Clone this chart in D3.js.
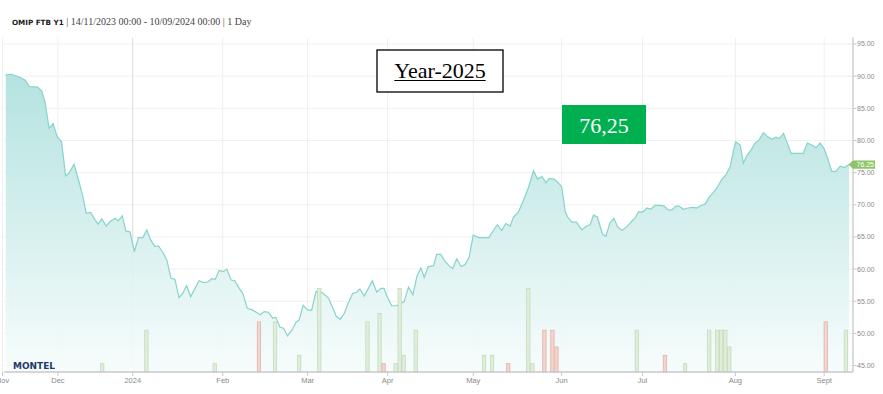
<!DOCTYPE html>
<html>
<head>
<meta charset="utf-8">
<script src="https://cdnjs.cloudflare.com/ajax/libs/d3/7.8.5/d3.min.js"></script>
<style>
  html, body { margin: 0; padding: 0; background: #fff; }
  svg { display: block; }
</style>
</head>
<body>
<svg id="chart" width="883" height="394"></svg>
<script>
// trading session index (0 = 14/11/2023) and closing price, EUR/MWh
var sessions = [0,1.5,3.6,4.8,5.9,7.9,9.0,9.8,10.8,11.8,12.8,13.9,14.9,15.7,17.0,18.1,19.2,20.0,21.1,22.2,
    23.0,23.9,25.0,26.0,27.2,28.0,29.0,29.9,30.9,32.0,33.0,34.1,35.1,36.1,37.1,38.0,39.0,40.1,41.1,42.1,
    43.1,44.0,45.0,46.0,47.1,48.1,49.2,50.2,51.3,52.1,53.1,54.1,55.0,56.1,57.0,58.1,59.0,60.1,61.2,62.3,
    63.3,64.3,65.3,66.4,67.2,68.2,69.1,70.1,71.2,72.2,73.0,74.0,75.0,76.1,77.2,78.0,79.0,80.3,81.4,82.2,
    83.2,84.2,85.2,86.3,87.3,88.1,89.2,90.2,91.2,92.3,93.3,94.1,94.9,96.0,97.1,98.1,99.1,100.2,101.3,102.3,
    103.3,104.1,105.1,106.4,107.2,108.2,109.3,110.3,111.2,112.2,113.3,114.3,115.3,116.3,117.6,118.8,120.2,121.3,122.3,123.4,
    124.4,125.5,126.3,127.5,128.8,130.0,131.3,132.3,133.4,134.4,135.2,136.4,137.5,138.3,139.2,139.8,140.8,142.0,143.3,144.5,
    145.4,146.2,147.2,148.4,149.3,150.3,151.3,152.2,153.3,154.5,155.7,156.6,157.4,158.5,159.5,160.5,161.5,162.8,163.8,164.8,
    165.7,166.7,167.5,168.6,169.7,171.1,171.9,173.0,174.0,175.0,176.0,177.0,178.1,179.1,180.2,181.0,181.6,182.7,183.5,184.4,
    185.4,186.4,187.4,188.5,189.5,190.6,191.6,192.4,193.5,194.3,195.4,196.8,198.4,199.4,200.5,201.6,202.6,203.6,204.3,205.5,
    206.5,207.6,208.6,209.8];

var prices = [90.2,90.3,89.8,89.4,88.4,88.3,87.7,85.9,81.9,82.6,80.6,79.8,74.5,74.9,76.3,73.9,71.3,68.7,68.8,67.7,
    67.0,67.8,66.7,67.4,67.9,67.5,68.3,65.9,65.8,62.7,64.9,64.9,66.1,64.5,63.5,63.6,62.7,61.4,58.6,58.4,
    55.6,56.2,57.4,55.7,57.0,58.2,57.9,58.0,58.5,58.4,59.8,59.6,60.0,58.3,58.2,57.0,56.2,53.9,53.7,53.3,
    52.9,53.4,53.3,52.4,52.5,51.0,50.8,49.6,50.5,51.7,52.1,54.4,53.7,53.6,56.5,56.6,56.2,55.5,53.9,52.7,
    52.2,53.1,54.7,56.2,56.4,56.9,55.8,57.0,58.2,56.4,57.0,57.0,55.7,54.3,54.3,54.6,54.9,57.2,56.0,58.9,
    60.2,58.7,60.4,60.5,62.3,62.3,61.2,60.5,60.1,61.6,60.4,60.7,61.9,65.3,64.9,64.9,64.9,66.0,66.9,66.0,
    67.1,66.7,68.1,68.8,70.7,72.6,75.3,74.0,74.4,73.4,74.1,74.0,73.4,72.8,68.9,68.1,67.3,67.3,66.1,66.7,
    66.9,68.4,68.1,65.5,65.1,67.2,67.9,66.6,66.0,66.6,67.4,68.0,68.9,68.9,69.5,69.3,69.9,69.9,69.8,69.2,
    69.2,69.8,69.8,69.3,69.5,69.6,69.5,69.9,70.1,71.2,71.9,72.7,73.9,74.6,75.9,78.3,79.8,79.3,76.5,77.7,
    78.5,79.6,80.1,81.2,80.6,80.2,80.5,80.3,81.1,79.8,78.0,78.0,78.0,79.6,79.3,78.9,79.6,78.7,77.5,75.2,
    75.2,76.0,75.8,76.25];

// traded volume bars
var volSessions = [24,35,52,63,67,73,78,90,93,94,97,98,99,102,119,121,125,130,131,134,136,137,157,164,169,175,177,178,179,180,204,209];
var volumes     = [1,5,1,6,6,2,10,6,7,1,1,10,2,5,2,2,1,10,1,5,5,3,5,2,1,5,5,5,5,3,6,5];
var volDir      = ["up","up","up","down","up","up","up","up","up","down","up","up","up","up","up","up",
                   "down","up","up","down","down","down","up","down","up","up","up","up","up","up","down","up"];

var monthTicks  = [-0.8,13.0,31.6,54.0,75.1,95.0,116.3,138.3,158.4,181.5,203.6];
var monthLabels = ["Nov","Dec","2024","Feb","Mar","Apr","May","Jun","Jul","Aug","Sept"];

var priceTicks = [45,50,55,60,65,70,75,80,85,90,95];
var lastPrice  = 76.25;

var titleBold = "OMIP FTB Y1";
var titleRest = "| 14/11/2023 00:00 - 10/09/2024 00:00 | 1 Day";
var yearLabel = "Year-2025";
var priceLabel = "76,25";


drawChart();

function drawChart() {

    var svg = d3.select("#chart");

    var plotL = 4, plotR = 853, plotT = 37.6, plotB = 372;

    var x = d3.scaleLinear()
              .domain([0, 210])
              .range([5.7, 5.7 + 210 * 4.02]);

    var y = d3.scaleLinear()
              .domain([44, 96])
              .range([plotB, plotT]);

    var yVol = d3.scaleLinear()
                 .domain([0, 40])
                 .range([plotB, plotT]);

    var data = d3.zip(sessions, prices);

    // gradient for area
    var grad = svg.append("defs")
                  .append("linearGradient")
                  .attr("id", "areaGrad")
                  .attr("gradientUnits", "userSpaceOnUse")
                  .attr("x1", 0).attr("y1", plotT)
                  .attr("x2", 0).attr("y2", plotB);
    grad.append("stop").attr("offset", "0%").attr("stop-color", "#a3dcd8");
    grad.append("stop").attr("offset", "100%").attr("stop-color", "#f6fcfc");

    // grid
    svg.append("g")
       .selectAll("line")
       .data(priceTicks)
       .enter()
       .append("line")
       .attr("x1", plotL).attr("x2", plotR)
       .attr("y1", d => y(d)).attr("y2", d => y(d))
       .attr("stroke", "#f0f0f0")
       .attr("stroke-width", 1);

    svg.append("g")
       .selectAll("line")
       .data(monthTicks)
       .enter()
       .append("line")
       .attr("x1", d => x(d)).attr("x2", d => x(d))
       .attr("y1", plotT).attr("y2", plotB)
       .attr("stroke", (d, i) => monthLabels[i] === "2024" ? "#dcdcdc" : "#efefef")
       .attr("stroke-width", 1);

    // price area + line
    var area = d3.area()
                 .x(d => x(d[0]))
                 .y0(plotB)
                 .y1(d => y(d[1]));

    var line = d3.line()
                 .x(d => x(d[0]))
                 .y(d => y(d[1]));

    svg.append("path")
       .datum(data)
       .attr("d", area)
       .attr("fill", "url(#areaGrad)")
       .attr("fill-opacity", 0.9);

    svg.append("path")
       .datum(data)
       .attr("d", line)
       .attr("fill", "none")
       .attr("stroke", "#86d3cd")
       .attr("stroke-width", 1.2);

    // volume bars
    svg.append("g")
       .selectAll("rect")
       .data(d3.range(volSessions.length))
       .enter()
       .append("rect")
       .attr("x", i => x(volSessions[i] - 0.42))
       .attr("width", x(0.84) - x(0))
       .attr("y", i => yVol(volumes[i]))
       .attr("height", i => plotB - yVol(volumes[i]))
       .attr("fill", i => volDir[i] === "up" ? "#deeed9" : "#f3d4ce")
       .attr("stroke", i => volDir[i] === "up" ? "#c4dbbd" : "#e2b3aa")
       .attr("stroke-width", 0.8);

    // axes lines
    svg.append("line")
       .attr("x1", plotL).attr("x2", plotR)
       .attr("y1", plotB).attr("y2", plotB)
       .attr("stroke", "#c8c8c8")
       .attr("stroke-width", 1.5);

    svg.append("line")
       .attr("x1", plotR).attr("x2", plotR)
       .attr("y1", plotT).attr("y2", plotB)
       .attr("stroke", "#cfcfcf")
       .attr("stroke-width", 1.5);

    // right axis ticks + labels
    var yAx = svg.append("g")
                 .selectAll("g")
                 .data(priceTicks)
                 .enter()
                 .append("g");

    yAx.append("line")
       .attr("x1", plotR).attr("x2", plotR + 3.5)
       .attr("y1", d => y(d)).attr("y2", d => y(d))
       .attr("stroke", "#c8c8c8");

    yAx.append("text")
       .attr("x", plotR + 4)
       .attr("y", d => y(d) + 2.4)
       .attr("font-family", "Liberation Sans, Arial, sans-serif")
       .attr("font-size", 7)
       .attr("fill", "#8a8a8a")
       .text(d => d.toFixed(2));

    // bottom ticks + labels
    var xAx = svg.append("g")
                 .selectAll("g")
                 .data(monthTicks)
                 .enter()
                 .append("g");

    xAx.append("line")
       .attr("x1", d => x(d)).attr("x2", d => x(d))
       .attr("y1", plotB).attr("y2", plotB + 4)
       .attr("stroke", "#c8c8c8");

    xAx.append("text")
       .attr("x", d => x(d))
       .attr("y", plotB + 10.5)
       .attr("text-anchor", "middle")
       .attr("font-family", "Liberation Sans, Arial, sans-serif")
       .attr("font-size", 7.5)
       .attr("fill", "#8a8a8a")
       .text((d, i) => monthLabels[i]);

    // last price flag
    var ly = y(lastPrice);
    svg.append("path")
       .attr("d", "M" + (plotR - 4.5) + "," + ly + "L" + plotR + "," + (ly - 4.2) + "H" + (plotR + 22) +
                  "V" + (ly + 4.2) + "H" + plotR + "Z")
       .attr("fill", "#8cc466");

    svg.append("text")
       .attr("x", plotR + 3.5)
       .attr("y", ly + 2.4)
       .attr("font-family", "Liberation Sans, Arial, sans-serif")
       .attr("font-size", 7)
       .attr("fill", "#ffffff")
       .text(lastPrice.toFixed(2));

    // logo
    svg.append("text")
       .attr("x", 13)
       .attr("y", 369.3)
       .attr("font-family", "DejaVu Sans, Verdana, sans-serif")
       .attr("font-weight", "bold")
       .attr("font-size", 8.6)
       .attr("textLength", 42)
       .attr("lengthAdjust", "spacingAndGlyphs")
       .attr("fill", "#1d3a6a")
       .text("MONTEL");

    // title
    var title = svg.append("text")
                   .attr("x", 12)
                   .attr("y", 25.3)
                   .attr("fill", "#222");

    title.append("tspan")
         .attr("font-family", "DejaVu Sans, Arial, sans-serif")
         .attr("font-weight", "bold")
         .attr("font-size", 7.2)
         .text(titleBold + " ");

    title.append("tspan")
         .attr("font-family", "Liberation Serif, Georgia, serif")
         .attr("font-size", 10)
         .attr("fill", "#444")
         .text(titleRest);

    // Year box
    svg.append("rect")
       .attr("x", 377).attr("y", 50)
       .attr("width", 126).attr("height", 42)
       .attr("fill", "#fff")
       .attr("stroke", "#000")
       .attr("stroke-width", 1.3);

    var yt = svg.append("text")
                .attr("x", 440)
                .attr("y", 77.5)
                .attr("text-anchor", "middle")
                .attr("font-family", "Liberation Serif, Cambria, serif")
                .attr("font-size", 22)
                .attr("fill", "#000")
                .text(yearLabel);

    var tw = yt.node().getComputedTextLength();
    svg.append("line")
       .attr("x1", 440 - tw / 2).attr("x2", 440 + tw / 2)
       .attr("y1", 80.5).attr("y2", 80.5)
       .attr("stroke", "#000")
       .attr("stroke-width", 1);

    // price box
    svg.append("rect")
       .attr("x", 562).attr("y", 105)
       .attr("width", 84).attr("height", 39)
       .attr("fill", "#00b050");

    svg.append("text")
       .attr("x", 604)
       .attr("y", 133)
       .attr("text-anchor", "middle")
       .attr("font-family", "Liberation Serif, Cambria, serif")
       .attr("font-size", 22)
       .attr("fill", "#fff")
       .text(priceLabel);
}
</script>
</body>
</html>
